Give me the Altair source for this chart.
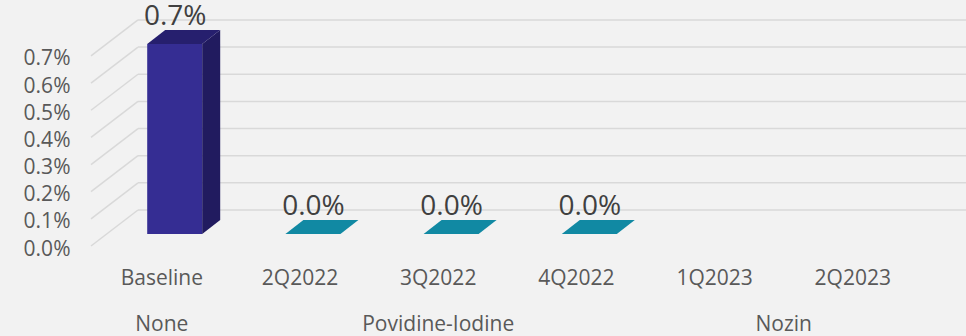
import json
import altair as alt
import pandas as pd

# ---------------- data ----------------
categories = ["Baseline", "2Q2022", "3Q2022", "4Q2022", "1Q2023", "2Q2023"]
groups = ["None", "Povidine-Iodine", "Povidine-Iodine", "Povidine-Iodine", "Nozin", "Nozin"]
values = [0.007, 0.0, 0.0, 0.0, None, None]
y_ticks = [0.0, 0.001, 0.002, 0.003, 0.004, 0.005, 0.006, 0.007]

# ---------------- styles ----------------
series_names = ["None", "Povidine-Iodine"]
front_colors = ["#352D93", "#1189A3"]
side_colors = ["#211B5F", "#0B6A80"]
top_colors = ["#261F6E", "#1189A3"]
GRID = "#D9D9D9"
LABEL = "#595959"
VALUE = "#404040"
FONT = "Open Sans"

# ---------------- geometry (pixels) ----------------
W, H = 875, 260
PAD = {"left": 91, "top": 0, "right": 0, "bottom": 76}
STEP = 138.2          # px between categories
X0 = 70.3             # px of first category centre in the view
KY = 27150.0          # px per unit of value
Y0 = 246.0            # px of zero on the front plane
BAR_HALF = 27.5
DEPTH_X, DEPTH_Y = 18.0, 14.0
FRONT_DX, FRONT_DY = 13.4, -12.0
WALL_DX, WALL_DY = 47.0, -36.0

xmin, xmax = -X0 / STEP, (W - X0) / STEP
ymin, ymax = -(H - Y0) / KY, Y0 / KY
xs = alt.Scale(domain=[xmin, xmax], nice=False, zero=False)
ys = alt.Scale(domain=[ymin, ymax], nice=False, zero=False)

HALF_U = BAR_HALF / STEP
DXU = DEPTH_X / STEP
DYU = DEPTH_Y / KY

# ---------------- tables ----------------
bars = pd.DataFrame({"category": categories, "idx": list(range(len(categories))),
                     "group": groups, "value": values}).dropna()
bars2 = bars.merge(pd.DataFrame({"depth": [0, 1]}), how="cross")
ticks_df = pd.DataFrame({"tick": y_ticks})
cat_df = pd.DataFrame({"idx": list(range(len(categories)))})

group_order = list(dict.fromkeys(groups))
group_centers = [sum(i for i, g in enumerate(groups) if g == name) /
                 groups.count(name) for name in group_order]
grp_df = pd.DataFrame({"center": group_centers})

expr = "''"
for name, c in reversed(list(zip(group_order, group_centers))):
    expr = f"abs(datum.value - {c}) < 0.01 ? {json.dumps(name)} : ({expr})"

Y_AXIS = alt.Axis(values=y_ticks, format=".1%", domain=False, ticks=False, tickSize=0,
                  grid=False, labelPadding=21, labelFontSize=21, labelColor=LABEL,
                  labelFont=FONT, labelOffset=3, labelOverlap=False, labelFlush=False,
                  title=None)
CAT_AXIS = alt.Axis(values=list(range(len(categories))),
                    labelExpr=f"{json.dumps(categories)}[round(datum.value)]",
                    orient="bottom", domain=False, ticks=False, tickSize=0, grid=False,
                    labelPadding=7, labelFontSize=21, labelColor=LABEL, labelFont=FONT,
                    labelOverlap=False, labelFlush=False, title=None)
GRP_AXIS = alt.Axis(values=group_centers, labelExpr=expr,
                    orient="bottom", domain=False, ticks=False, tickSize=0, grid=False,
                    labelPadding=53, labelFontSize=21, labelColor=LABEL, labelFont=FONT,
                    labelOverlap=False, labelFlush=False, title=None)

# ---------------- walls ----------------
back_wall = alt.Chart(ticks_df).mark_rule(color=GRID, strokeWidth=1.5,
                                          xOffset=WALL_DX, yOffset=WALL_DY).encode(
    x=alt.XDatum(xmin, scale=xs, axis=None, type="quantitative"),
    x2=alt.datum(xmax),
    y=alt.Y("tick:Q", scale=ys, axis=Y_AXIS),
)
side_wall = alt.Chart(ticks_df).mark_rule(color=GRID, strokeWidth=1.5,
                                          x2Offset=WALL_DX, y2Offset=WALL_DY).encode(
    x=alt.XDatum(xmin, scale=xs, axis=None, type="quantitative"),
    x2=alt.datum(xmin),
    y=alt.Y("tick:Q", scale=ys, axis=Y_AXIS),
    y2="tick:Q",
)

# ---------------- 3D bars ----------------
base = alt.Chart(bars2).transform_calculate(
    xl=f"datum.idx - {HALF_U} + datum.depth * {DXU}",
    xr=f"datum.idx + {HALF_U} + datum.depth * {DXU}",
    yt=f"datum.value + datum.depth * {DYU}",
    yb=f"datum.depth * {DYU}",
)

front = base.transform_filter("datum.depth == 0").mark_rect(
    xOffset=FRONT_DX, x2Offset=FRONT_DX, yOffset=FRONT_DY, y2Offset=FRONT_DY).encode(
    x=alt.X("xl:Q", scale=xs, axis=None),
    x2="xr:Q",
    y=alt.Y("yt:Q", scale=ys, axis=Y_AXIS),
    y2="yb:Q",
    color=alt.Color("group:N", scale=alt.Scale(domain=series_names, range=front_colors), legend=None),
)

side = base.transform_filter("datum.value > 0").mark_area(
    orient="vertical", xOffset=FRONT_DX, yOffset=FRONT_DY, y2Offset=FRONT_DY).encode(
    x=alt.X("xr:Q", scale=xs, axis=None),
    y=alt.Y("yt:Q", scale=ys, axis=Y_AXIS),
    y2="yb:Q",
    detail="category:N",
    color=alt.Color("group:N", scale=alt.Scale(domain=series_names, range=side_colors), legend=None),
)

top = base.mark_area(
    orient="horizontal", xOffset=FRONT_DX, x2Offset=FRONT_DX, yOffset=FRONT_DY).encode(
    y=alt.Y("yt:Q", scale=ys, axis=Y_AXIS),
    x=alt.X("xl:Q", scale=xs, axis=None),
    x2="xr:Q",
    detail="category:N",
    color=alt.Color("group:N", scale=alt.Scale(domain=series_names, range=top_colors), legend=None),
)

labels = alt.Chart(bars).mark_text(
    fontSize=28, color=VALUE, font=FONT, baseline="alphabetic", align="center",
    xOffset=FRONT_DX + 0.5, yOffset=FRONT_DY - DEPTH_Y - 5).encode(
    x=alt.X("idx:Q", scale=xs, axis=None),
    y=alt.Y("value:Q", scale=ys, axis=Y_AXIS),
    text=alt.Text("value:Q", format=".1%"),
)

# ---------------- category axes ----------------
cat_layer = alt.Chart(cat_df).mark_point(opacity=0).encode(
    x=alt.X("idx:Q", scale=xs, axis=CAT_AXIS),
    y=alt.YDatum(0, scale=ys, axis=Y_AXIS, type="quantitative"),
)
grp_layer = alt.Chart(grp_df).mark_point(opacity=0).encode(
    x=alt.X("center:Q", scale=xs, axis=GRP_AXIS),
    y=alt.YDatum(0, scale=ys, axis=Y_AXIS, type="quantitative"),
)

chart = alt.layer(
    back_wall, side_wall, front, side, top, labels, cat_layer, grp_layer
).resolve_scale(color="independent").resolve_axis(x="independent").properties(
    width=W, height=H, padding=PAD, autosize="none", background="#F2F2F2"
).configure(font=FONT).configure_view(stroke=None)

chart.save("out.html", embed_options={"renderer": "svg", "actions": False})
